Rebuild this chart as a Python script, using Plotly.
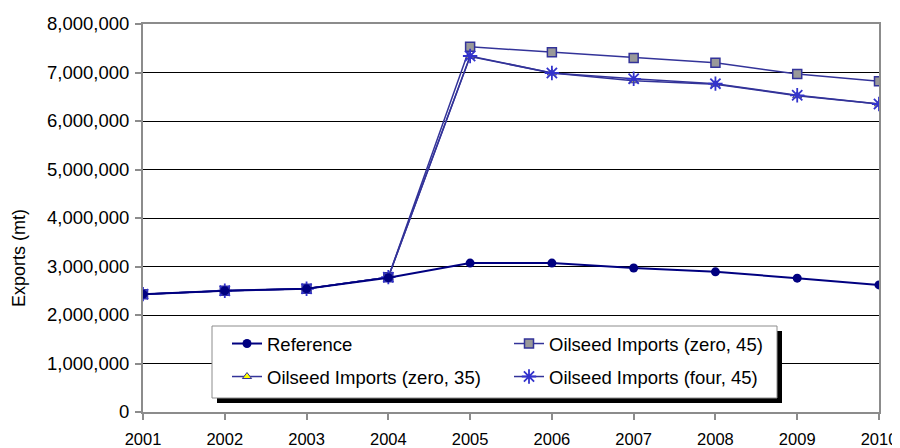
import plotly.graph_objects as go

# Years and scenario values (metric tons)
years = [2001, 2002, 2003, 2004, 2005, 2006, 2007, 2008, 2009, 2010]
reference = [2430000, 2500000, 2540000, 2770000, 3070000, 3070000, 2970000, 2890000, 2760000, 2620000]
zero_45 = [2430000, 2500000, 2540000, 2780000, 7530000, 7420000, 7300000, 7200000, 6970000, 6820000]
zero_35 = [2430000, 2500000, 2540000, 2780000, 7330000, 6990000, 6830000, 6760000, 6520000, 6350000]
four_45 = [2430000, 2500000, 2540000, 2780000, 7340000, 6990000, 6870000, 6770000, 6530000, 6350000]
y_ticks = [0, 1000000, 2000000, 3000000, 4000000, 5000000, 6000000, 7000000, 8000000]

FONT = "Liberation Sans, Arial, sans-serif"

# the page body has an 8px margin, so the figure starts at (8, 8) in the window
OFF = 8
W, H = 900 - OFF, 448 - OFF
# wanted plot area in window pixels: x 143..879, y 24..412
L, R, T, B = 143 - OFF, 900 - 879, 24 - OFF, 448 - 412
PW, PH = W - L - R, H - T - B


def px_x(x):
    # window x pixel -> paper fraction
    return (x - OFF - L) / PW


def px_y(y):
    # window y pixel -> paper fraction
    return (412 - y) / PH


fig = go.Figure()

fig.add_trace(go.Scatter(
    x=years, y=zero_45, name="Oilseed Imports (zero, 45)", mode="lines+markers",
    line=dict(color="#333399", width=1.5),
    marker=dict(symbol="square", size=9, color="#999999", line=dict(color="#333399", width=1.5)),
    legend="legend2",
))
fig.add_trace(go.Scatter(
    x=years, y=zero_35, name="Oilseed Imports (zero, 35)", mode="lines+markers",
    line=dict(color="#333399", width=1.5),
    marker=dict(symbol="triangle-up", size=8, color="#ffff00", line=dict(color="#333399", width=1)),
    legend="legend3",
))
fig.add_trace(go.Scatter(
    x=years, y=four_45, name="Oilseed Imports (four, 45)", mode="lines+markers",
    line=dict(color="#333399", width=1.5),
    marker=dict(symbol="asterisk-open", size=12, color="#3333cc", line=dict(color="#3333cc", width=1.8)),
    legend="legend4",
))
fig.add_trace(go.Scatter(
    x=years, y=reference, name="Reference", mode="lines+markers",
    line=dict(color="#000080", width=2),
    marker=dict(symbol="circle", size=9, color="#000080"),
    legend="legend",
))

leg_common = dict(
    bgcolor="rgba(0,0,0,0)", borderwidth=0,
    font=dict(family=FONT, size=18.5, color="#000000"),
    xanchor="left", yanchor="middle",
)

fig.update_layout(
    width=W, height=H,
    margin=dict(l=L, r=R, t=T, b=B, autoexpand=False),
    plot_bgcolor="white",
    paper_bgcolor="white",
    font=dict(family=FONT, size=18, color="#000000"),
    showlegend=True,
    legend=dict(x=px_x(227), y=px_y(344), **leg_common),
    legend2=dict(x=px_x(509), y=px_y(344), **leg_common),
    legend3=dict(x=px_x(227), y=px_y(377), **leg_common),
    legend4=dict(x=px_x(509), y=px_y(377), **leg_common),
    xaxis=dict(
        range=[2001, 2010],
        tickvals=years,
        ticktext=[str(y) for y in years],
        showgrid=False,
        showline=True, linecolor="#8c8c8c", linewidth=2, mirror=True,
        ticks="outside", ticklen=6, tickcolor="#8c8c8c", tickwidth=1.5,
        tickfont=dict(family=FONT, size=16.5, color="#000000"),
        ticklabelstandoff=5,
        zeroline=False,
        automargin=False,
    ),
    yaxis=dict(
        range=[0, 8000000],
        tickvals=y_ticks,
        tickformat=",d",
        showgrid=True, gridcolor="#000000", gridwidth=1,
        showline=True, linecolor="#8c8c8c", linewidth=2, mirror=True,
        ticks="outside", ticklen=6, tickcolor="#8c8c8c", tickwidth=1.5,
        tickfont=dict(family=FONT, size=18.5, color="#000000"),
        ticklabelstandoff=2,
        zeroline=False,
        automargin=False,
    ),
    annotations=[
        dict(text="Exports (mt)", textangle=-90, showarrow=False,
             xref="paper", yref="paper", x=px_x(19), y=px_y(258),
             xanchor="center", yanchor="middle",
             font=dict(family=FONT, size=18, color="#000000")),
    ],
    shapes=[
        # legend shadow
        dict(type="rect", xref="paper", yref="paper", layer="above",
             x0=px_x(217), x1=px_x(782), y0=px_y(403), y1=px_y(331),
             fillcolor="#000000", line=dict(width=0)),
        # legend box
        dict(type="rect", xref="paper", yref="paper", layer="above",
             x0=px_x(212), x1=px_x(777), y0=px_y(398), y1=px_y(326),
             fillcolor="#ffffff", line=dict(color="#8c8c8c", width=1)),
    ],
)

fig.write_html("out.html")
